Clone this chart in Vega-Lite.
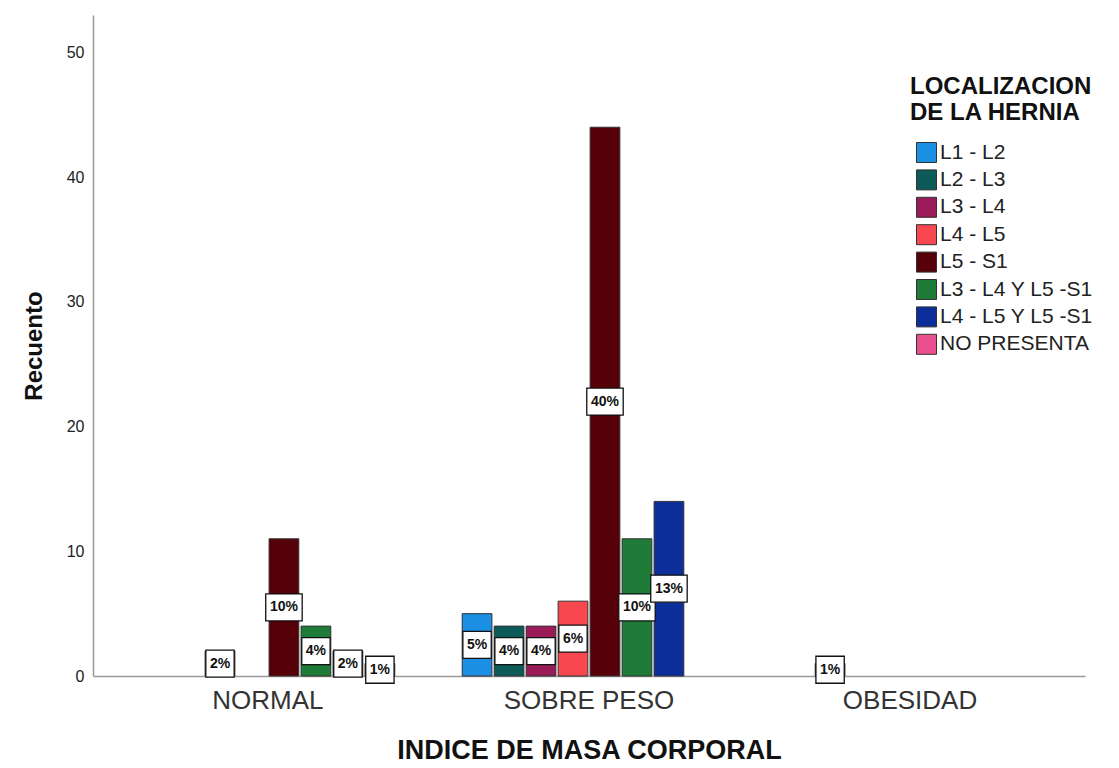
{
  "$schema": "https://vega.github.io/schema/vega-lite/v6.json",
  "autosize": {"type": "none"},
  "padding": {"left": 93, "top": 15, "right": 34, "bottom": 92},
  "width": 992,
  "height": 661,
  "background": "white",
  "config": {
    "font": "Liberation Sans",
    "view": {"stroke": null}
  },
  "data": {
    "values": [
      {"imc": "NORMAL", "loc": "L3 - L4", "count": 2, "pct": "2%"},
      {"imc": "NORMAL", "loc": "L5 - S1", "count": 11, "pct": "10%"},
      {"imc": "NORMAL", "loc": "L3 - L4 Y L5 -S1", "count": 4, "pct": "4%"},
      {"imc": "NORMAL", "loc": "L4 - L5 Y L5 -S1", "count": 2, "pct": "2%"},
      {"imc": "NORMAL", "loc": "NO PRESENTA", "count": 1, "pct": "1%"},
      {"imc": "SOBRE PESO", "loc": "L1 - L2", "count": 5, "pct": "5%"},
      {"imc": "SOBRE PESO", "loc": "L2 - L3", "count": 4, "pct": "4%"},
      {"imc": "SOBRE PESO", "loc": "L3 - L4", "count": 4, "pct": "4%"},
      {"imc": "SOBRE PESO", "loc": "L4 - L5", "count": 6, "pct": "6%"},
      {"imc": "SOBRE PESO", "loc": "L5 - S1", "count": 44, "pct": "40%"},
      {"imc": "SOBRE PESO", "loc": "L3 - L4 Y L5 -S1", "count": 11, "pct": "10%"},
      {"imc": "SOBRE PESO", "loc": "L4 - L5 Y L5 -S1", "count": 14, "pct": "13%"},
      {"imc": "OBESIDAD", "loc": "L2 - L3", "count": 1, "pct": "1%"}
    ]
  },
  "encoding": {
    "x": {
      "field": "imc", "type": "nominal",
      "sort": ["NORMAL", "SOBRE PESO", "OBESIDAD"],
      "scale": {"paddingInner": 0.21, "paddingOuter": 0.15},
      "axis": {
        "title": "INDICE DE MASA CORPORAL",
        "titleFontSize": 27, "titleFontWeight": "bold", "titleColor": "#111",
        "titlePadding": 24,
        "labelAngle": 0, "labelFontSize": 26, "labelColor": "#333", "labelPadding": 11,
        "ticks": false, "domainColor": "#999", "domainWidth": 1.5
      }
    },
    "xOffset": {
      "field": "loc", "type": "nominal",
      "sort": ["L1 - L2", "L2 - L3", "L3 - L4", "L4 - L5", "L5 - S1", "L3 - L4 Y L5 -S1", "L4 - L5 Y L5 -S1", "NO PRESENTA"],
      "scale": {
        "domain": ["L1 - L2", "L2 - L3", "L3 - L4", "L4 - L5", "L5 - S1", "L3 - L4 Y L5 -S1", "L4 - L5 Y L5 -S1", "NO PRESENTA"],
        "paddingInner": 0.07, "paddingOuter": 0
      }
    }
  },
  "layer": [
    {
      "mark": {"type": "bar", "stroke": "#333", "strokeWidth": 1},
      "encoding": {
        "y": {
          "field": "count", "type": "quantitative",
          "scale": {"domain": [0, 53], "nice": false},
          "axis": {
            "title": "Recuento", "titleFontSize": 24, "titleFontWeight": "bold", "titleColor": "#111",
            "titlePadding": 20,
            "values": [0, 10, 20, 30, 40, 50],
            "labelFontSize": 16, "labelColor": "#222", "labelPadding": 9,
            "ticks": false, "grid": false, "domainColor": "#999", "domainWidth": 1.5
          }
        },
        "color": {
          "field": "loc", "type": "nominal",
          "scale": {
            "domain": ["L1 - L2", "L2 - L3", "L3 - L4", "L4 - L5", "L5 - S1", "L3 - L4 Y L5 -S1", "L4 - L5 Y L5 -S1", "NO PRESENTA"],
            "range": ["#1a8fe3", "#0d5b58", "#9b1b58", "#f9474f", "#560007", "#1e7b38", "#0b2e9b", "#ea4f8f"]
          },
          "legend": {
            "title": ["LOCALIZACION", "DE LA HERNIA"],
            "titleFontSize": 24, "titleFontWeight": "bold", "titleColor": "#111", "titleLineHeight": 26,
            "titleLimit": 400,
            "titlePadding": 17,
            "orient": "none", "legendX": 817, "legendY": 60,
            "symbolType": "square", "symbolSize": 400, "symbolStrokeColor": "#333", "symbolStrokeWidth": 1,
            "labelFontSize": 21, "labelColor": "#222", "labelOffset": 3, "labelLimit": 300,
            "rowPadding": 2.4, "symbolOffset": 6
          }
        }
      }
    },
    {
      "transform": [{"calculate": "datum.count / 2", "as": "mid"}],
      "mark": {"type": "point", "filled": true, "fill": "white", "stroke": "#111", "strokeWidth": 1.3, "opacity": 1, "size": 729},
      "encoding": {
        "y": {"field": "mid", "type": "quantitative"},
        "shape": {
          "condition": {"test": "datum.count >= 10", "value": "M-1.35,-1H1.35V1H-1.35Z"},
          "value": "M-1.05,-1H1.05V1H-1.05Z"
        }
      }
    },
    {
      "transform": [{"calculate": "datum.count / 2", "as": "mid"}],
      "mark": {"type": "text", "fontSize": 14, "fontWeight": "bold", "color": "#111", "baseline": "middle", "align": "center"},
      "encoding": {
        "y": {"field": "mid", "type": "quantitative"},
        "text": {"field": "pct"}
      }
    }
  ]
}
